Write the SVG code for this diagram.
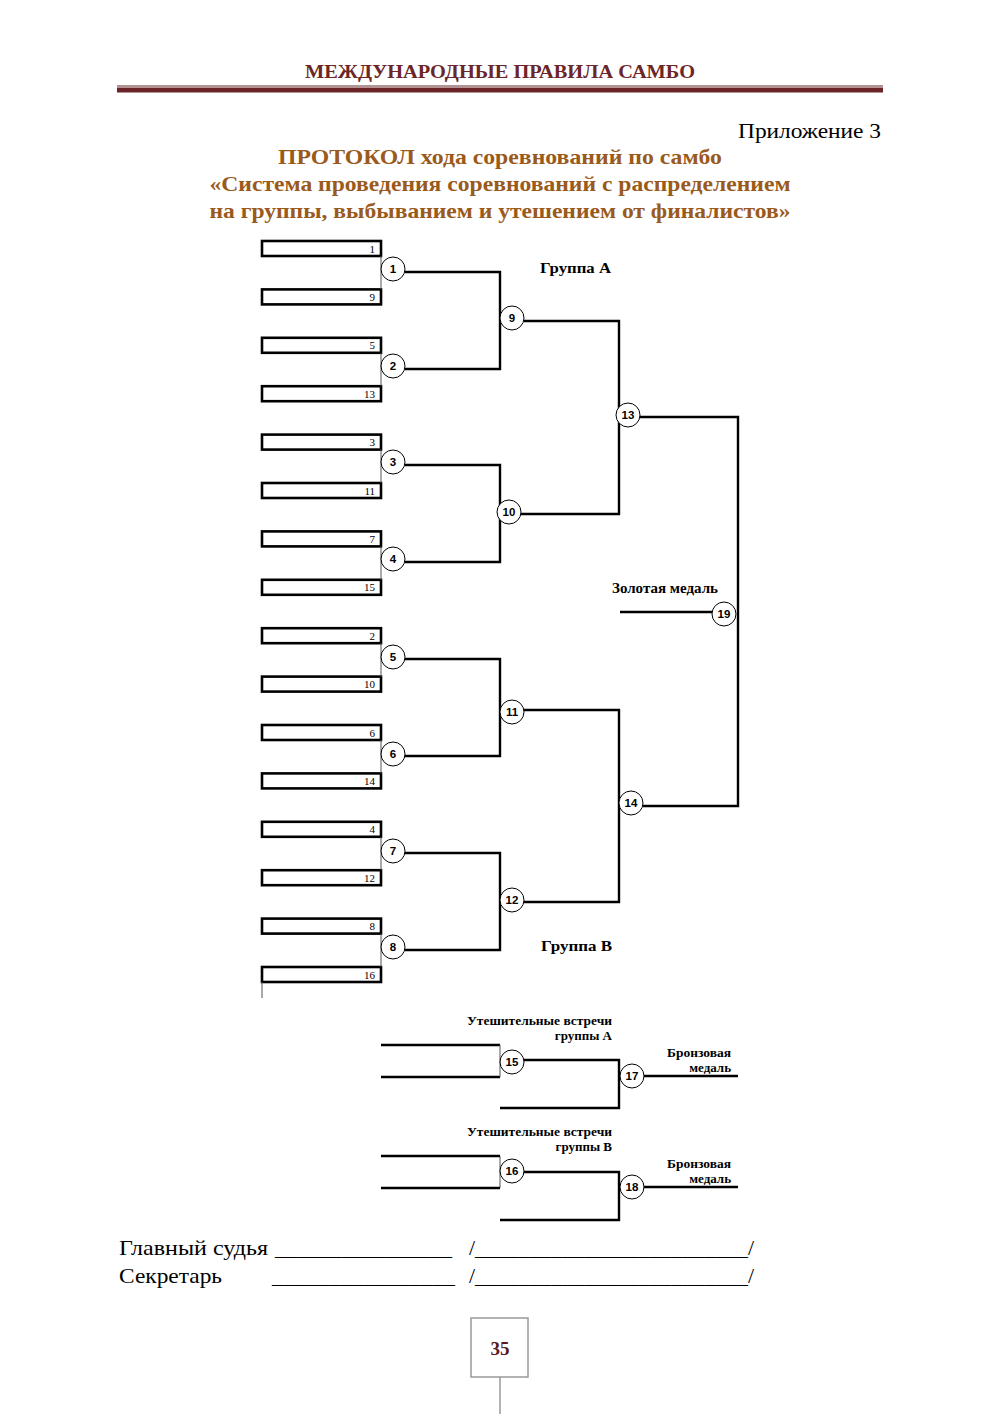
<svg xmlns="http://www.w3.org/2000/svg" width="1000" height="1414" viewBox="0 0 1000 1414">
<style>
.bx{fill:#fff;stroke:#000;stroke-width:2.6}
.ln{fill:none;stroke:#000;stroke-width:2.4}
.thin{fill:none;stroke:#555;stroke-width:1}
.c circle{fill:#fff;stroke:#000;stroke-width:1}
.c text{font-family:"Liberation Sans",Arial,sans-serif;font-weight:bold;font-size:11.5px;text-anchor:middle}
.bn{font-family:"Liberation Serif","Times New Roman",serif;font-size:11px;text-anchor:end}
.lb{font-family:"Liberation Serif","Times New Roman",serif;font-weight:bold;font-size:14px}
.sm{font-size:13px}
.tt{font-family:"Liberation Serif","Times New Roman",serif;font-weight:bold;font-size:21px;fill:#9a5a1c;text-anchor:middle}
.sg{font-family:"Liberation Serif","Times New Roman",serif;font-size:22px;fill:#000}
</style>
<rect width="1000" height="1414" fill="#fff"/>
<g id="header">
<text x="500" y="78" text-anchor="middle" textLength="390" lengthAdjust="spacingAndGlyphs" style="font-family:'Liberation Serif','Times New Roman',serif;font-weight:bold;font-size:19px;fill:#6b2628">МЕЖДУНАРОДНЫЕ ПРАВИЛА САМБО</text>
<line x1="117" y1="86" x2="883" y2="86" stroke="#9a7070" stroke-width="1.5"/>
<rect x="117" y="87.5" width="766" height="5" fill="#6a2428"/>
<text x="881" y="138" text-anchor="end" class="sg" textLength="143" lengthAdjust="spacingAndGlyphs">Приложение 3</text>
<text class="tt" x="500" y="164" textLength="444" lengthAdjust="spacingAndGlyphs">ПРОТОКОЛ хода соревнований по самбо</text>
<text class="tt" x="500" y="191" textLength="581" lengthAdjust="spacingAndGlyphs">«Система проведения соревнований с распределением</text>
<text class="tt" x="500" y="218" textLength="581" lengthAdjust="spacingAndGlyphs">на группы, выбыванием и утешением от финалистов»</text>
</g>
<g id="entries">
<g id="e1"><rect class="bx" x="262" y="241" width="119" height="15"/><text class="bn" x="375" y="252.5">1</text></g>
<g id="e9"><rect class="bx" x="262" y="289.4" width="119" height="15"/><text class="bn" x="375" y="300.9">9</text></g>
<g id="e5"><rect class="bx" x="262" y="337.8" width="119" height="15"/><text class="bn" x="375" y="349.3">5</text></g>
<g id="e13"><rect class="bx" x="262" y="386.2" width="119" height="15"/><text class="bn" x="375" y="397.7">13</text></g>
<g id="e3"><rect class="bx" x="262" y="434.6" width="119" height="15"/><text class="bn" x="375" y="446.1">3</text></g>
<g id="e11"><rect class="bx" x="262" y="483" width="119" height="15"/><text class="bn" x="375" y="494.5">11</text></g>
<g id="e7"><rect class="bx" x="262" y="531.4" width="119" height="15"/><text class="bn" x="375" y="542.9">7</text></g>
<g id="e15"><rect class="bx" x="262" y="579.8" width="119" height="15"/><text class="bn" x="375" y="591.3">15</text></g>
<g id="e2"><rect class="bx" x="262" y="628.2" width="119" height="15"/><text class="bn" x="375" y="639.7">2</text></g>
<g id="e10"><rect class="bx" x="262" y="676.6" width="119" height="15"/><text class="bn" x="375" y="688.1">10</text></g>
<g id="e6"><rect class="bx" x="262" y="725" width="119" height="15"/><text class="bn" x="375" y="736.5">6</text></g>
<g id="e14"><rect class="bx" x="262" y="773.4" width="119" height="15"/><text class="bn" x="375" y="784.9">14</text></g>
<g id="e4"><rect class="bx" x="262" y="821.8" width="119" height="15"/><text class="bn" x="375" y="833.3">4</text></g>
<g id="e12"><rect class="bx" x="262" y="870.2" width="119" height="15"/><text class="bn" x="375" y="881.7">12</text></g>
<g id="e8"><rect class="bx" x="262" y="918.6" width="119" height="15"/><text class="bn" x="375" y="930.1">8</text></g>
<g id="e16"><rect class="bx" x="262" y="967" width="119" height="15"/><text class="bn" x="375" y="978.5">16</text></g>
</g>
<g id="connectors">
<path class="thin" d="M381 256V289.4M381 352.8V386.2M381 449.6V483M381 546.4V579.8M381 643.2V676.6M381 740V773.4M381 836.8V870.2M381 933.6V967M262 982V998"/>
<path class="ln" d="M405 272H500V369H405M405 465H500V562H405M405 659H500V756H405M405 853H500V950H405"/>
<path class="ln" d="M524 321H619V514H521M524 710H619V902H524"/>
<path class="ln" d="M640 417H738V806H643"/>
<path class="ln" d="M620 612H712"/>
<path class="ln" d="M381 1045H500M381 1077H500M524 1060H619V1108H500M644 1076H738"/>
<path class="thin" d="M500 1045V1077M500 1156V1188"/>
<path class="ln" d="M381 1156H500M381 1188H500M524 1172H619V1220H500M644 1187H738"/>
</g>
<g id="matches" class="c">
<g id="m1"><circle cx="393" cy="269" r="12"/><text x="393" y="273">1</text></g>
<g id="m2"><circle cx="393" cy="366" r="12"/><text x="393" y="370">2</text></g>
<g id="m3"><circle cx="393" cy="462" r="12"/><text x="393" y="466">3</text></g>
<g id="m4"><circle cx="393" cy="559" r="12"/><text x="393" y="563">4</text></g>
<g id="m5"><circle cx="393" cy="657" r="12"/><text x="393" y="661">5</text></g>
<g id="m6"><circle cx="393" cy="754" r="12"/><text x="393" y="758">6</text></g>
<g id="m7"><circle cx="393" cy="851" r="12"/><text x="393" y="855">7</text></g>
<g id="m8"><circle cx="393" cy="947" r="12"/><text x="393" y="951">8</text></g>
<g id="m9"><circle cx="512" cy="318" r="12"/><text x="512" y="322">9</text></g>
<g id="m10"><circle cx="509" cy="512" r="12"/><text x="509" y="516">10</text></g>
<g id="m11"><circle cx="512" cy="712" r="12"/><text x="512" y="716">11</text></g>
<g id="m12"><circle cx="512" cy="900" r="12"/><text x="512" y="904">12</text></g>
<g id="m13"><circle cx="628" cy="415" r="12"/><text x="628" y="419">13</text></g>
<g id="m14"><circle cx="631" cy="803" r="12"/><text x="631" y="807">14</text></g>
<g id="m19"><circle cx="724" cy="614" r="12"/><text x="724" y="618">19</text></g>
<g id="m15"><circle cx="512" cy="1062" r="12"/><text x="512" y="1066">15</text></g>
<g id="m17"><circle cx="632" cy="1076" r="12"/><text x="632" y="1080">17</text></g>
<g id="m16"><circle cx="512" cy="1171" r="12"/><text x="512" y="1175">16</text></g>
<g id="m18"><circle cx="632" cy="1187" r="12"/><text x="632" y="1191">18</text></g>
</g>
<g id="labels">
<text class="lb" x="540" y="273" textLength="71" lengthAdjust="spacingAndGlyphs" style="font-size:15px">Группа А</text>
<text class="lb" x="541" y="951" textLength="71" lengthAdjust="spacingAndGlyphs" style="font-size:15px">Группа В</text>
<text class="lb" x="612" y="593" textLength="106" lengthAdjust="spacingAndGlyphs">Золотая медаль</text>
<text class="lb sm" x="467" y="1025" textLength="145" lengthAdjust="spacingAndGlyphs">Утешительные встречи</text>
<text class="lb sm" x="612" y="1040" text-anchor="end">группы А</text>
<text class="lb sm" x="667" y="1057" textLength="64" lengthAdjust="spacingAndGlyphs">Бронзовая</text>
<text class="lb sm" x="731" y="1072" text-anchor="end">медаль</text>
<text class="lb sm" x="467" y="1136" textLength="145" lengthAdjust="spacingAndGlyphs">Утешительные встречи</text>
<text class="lb sm" x="612" y="1151" text-anchor="end">группы В</text>
<text class="lb sm" x="667" y="1168" textLength="64" lengthAdjust="spacingAndGlyphs">Бронзовая</text>
<text class="lb sm" x="731" y="1183" text-anchor="end">медаль</text>
</g>
<g id="signatures">
<text class="sg" x="119" y="1255" textLength="149" lengthAdjust="spacingAndGlyphs">Главный судья</text>
<text class="sg" x="275" y="1255" textLength="177" lengthAdjust="spacingAndGlyphs">________________</text>
<text class="sg" x="469" y="1255" textLength="285" lengthAdjust="spacingAndGlyphs">/_________________________/</text>
<text class="sg" x="119" y="1283" textLength="103" lengthAdjust="spacingAndGlyphs">Секретарь</text>
<text class="sg" x="272" y="1283" textLength="183" lengthAdjust="spacingAndGlyphs" fill="#444">________________</text>
<text class="sg" x="469" y="1283" textLength="285" lengthAdjust="spacingAndGlyphs">/_________________________/</text>
</g>
<g id="page">
<rect x="471" y="1318" width="57" height="59" fill="#fff" stroke="#999" stroke-width="1.5"/>
<text x="500" y="1355" text-anchor="middle" style="font-family:'Liberation Serif','Times New Roman',serif;font-weight:bold;font-size:19px;fill:#5a1a1e">35</text>
<line x1="500" y1="1377" x2="500" y2="1414" stroke="#999" stroke-width="1.5"/>
</g>
</svg>
